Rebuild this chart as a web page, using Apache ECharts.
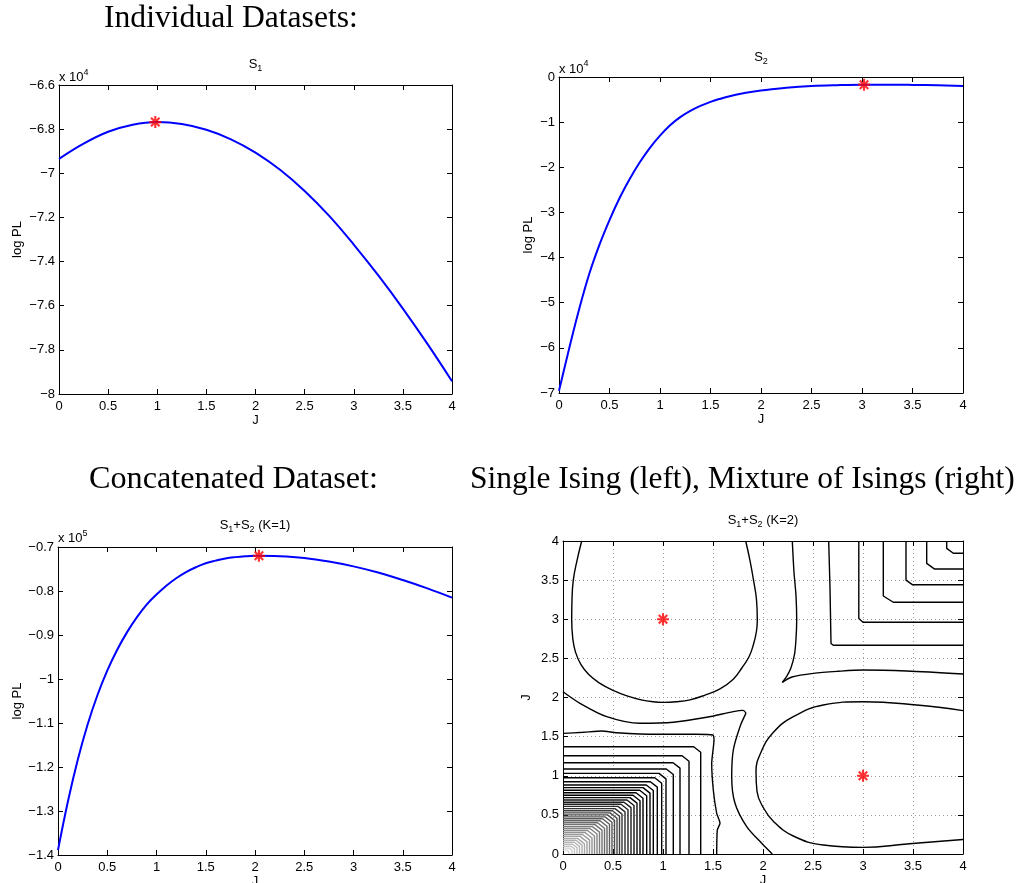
<!DOCTYPE html>
<html><head><meta charset="utf-8">
<script src="https://cdn.jsdelivr.net/npm/echarts@6/dist/echarts.min.js"></script>
<style>html,body{margin:0;padding:0;background:#fff}#c{width:1020px;height:883px}</style>
</head><body><div id="c"></div>
<script>
// ================= DATA =================
// S1 (values in units of 10^4)
const S1_J = [0,0.25,0.5,0.75,1,1.25,1.5,1.75,2,2.25,2.5,2.75,3,3.25,3.5,3.75,4];
const S1_LOGPL = [-6.935,-6.866,-6.812,-6.780,-6.768,-6.777,-6.803,-6.846,-6.906,-6.984,-7.080,-7.193,-7.323,-7.463,-7.613,-7.773,-7.942];
const S1_MAX = [0.98,-6.768];

// S2 (values in units of 10^4)
const S2_J = [0,0.1,0.2,0.3,0.4,0.5,0.6,0.7,0.8,0.9,1.0,1.1,1.2,1.3,1.4,1.5,1.6,1.7,1.8,1.9,2.0,2.25,2.5,2.75,3,3.25,3.5,3.75,4];
const S2_LOGPL = [-6.95,-6.02,-5.14,-4.36,-3.72,-3.17,-2.68,-2.26,-1.89,-1.57,-1.30,-1.07,-0.89,-0.75,-0.64,-0.55,-0.48,-0.42,-0.37,-0.33,-0.30,-0.24,-0.20,-0.18,-0.17,-0.17,-0.175,-0.185,-0.20];
const S2_MAX = [3.02,-0.17];

// S1+S2, K=1 (values in units of 10^5)
const K1_J = [0,0.1,0.2,0.3,0.4,0.5,0.6,0.7,0.8,0.9,1.0,1.1,1.2,1.3,1.4,1.5,1.6,1.7,1.8,1.9,2.0,2.25,2.5,2.75,3.0,3.25,3.5,3.75,4.0];
const K1_LOGPL = [-1.389,-1.279,-1.184,-1.104,-1.037,-0.981,-0.934,-0.894,-0.860,-0.831,-0.808,-0.788,-0.771,-0.757,-0.746,-0.737,-0.731,-0.726,-0.723,-0.721,-0.720,-0.721,-0.725,-0.733,-0.744,-0.758,-0.775,-0.794,-0.815];
const K1_MAX = [2.04,-0.720];

// S1+S2, K=2 : contour lines (J1, J2)
const K2_MAXIMA = [[1,3],[3,1]];
const CONTOUR_A = [[0.187,4.0],[0.14,3.75],[0.103,3.5],[0.09,3.25],[0.087,3.0],[0.098,2.75],[0.125,2.58],[0.18,2.42],[0.26,2.29],[0.37,2.18],[0.50,2.09],[0.64,2.02],[0.78,1.97],[0.9,1.945],[1.003,1.938],[1.13,1.945],[1.27,1.97],[1.42,2.03],[1.57,2.11],[1.70,2.23],[1.79,2.38],[1.86,2.52],[1.905,2.68],[1.935,2.85],[1.943,2.99],[1.935,3.25],[1.905,3.5],[1.87,3.75],[1.827,4.0]];
const CONTOUR_B = [[4.0,1.832],[3.537,1.904],[3.003,1.946],[2.603,1.904],[2.303,1.755],[2.10,1.55],[1.98,1.30],[1.93,1.05],[1.94,0.80],[2.0,0.60],[2.103,0.42],[2.303,0.23],[2.603,0.115],[3.003,0.085],[3.437,0.128],[4.0,0.185]];
const CONTOUR_C1A = [[2.293,4.0],[2.31,3.6],[2.33,3.3],[2.337,2.99],[2.33,2.75],[2.315,2.55],[2.28,2.38],[2.237,2.27],[2.193,2.194]];
const CONTOUR_C1B = [[2.193,2.194],[2.29,2.262],[2.503,2.309],[2.75,2.335],[3.003,2.351],[3.437,2.338],[4.0,2.30]];
const CONTOUR_C2A = [[0,2.074],[0.17,1.926],[0.437,1.755],[0.77,1.67],[1.103,1.683],[1.437,1.747],[1.703,1.819],[1.80,1.835],[1.83,1.80]];
const CONTOUR_C2B = [[1.83,1.80],[1.77,1.627],[1.703,1.329],[1.687,0.988],[1.72,0.648],[1.837,0.349],[1.987,0.137],[2.093,0]];
const CONTOUR_D1 = [[2.657,4.0],[2.67,3.4],[2.68,2.69],[2.703,2.667],[4.0,2.667]];
const CONTOUR_D2 = [[2.958,4.0],[2.958,3.01],[3.0,2.962],[4.0,2.962]];
const CONTOUR_D3 = [[3.203,4.0],[3.203,3.297],[3.303,3.217],[4.0,3.217]];
const CONTOUR_D4 = [[3.43,4.0],[3.43,3.50],[3.497,3.44],[4.0,3.44]];
const CONTOUR_D5 = [[3.637,4.0],[3.637,3.714],[3.713,3.643],[4.0,3.643]];
const CONTOUR_D6 = [[3.837,4.0],[3.837,3.906],[3.903,3.843],[4.0,3.843]];
const CONTOUR_E1 = [[0,1.542],[0.203,1.555],[0.387,1.572],[0.537,1.55],[0.937,1.53],[1.337,1.53],[1.497,1.521],[1.51,1.457],[1.487,1.159],[1.503,0.818],[1.537,0.52],[1.57,0.392],[1.543,0.307],[1.537,0]];
// nested corner contours near (0,0): level height on the J2 axis and width on the J1 axis
const CORNER_H = [1.371,1.256,1.167,1.086,1.03,0.975,0.924,0.882,0.848,0.815,0.783,0.75,0.72,0.69,0.662,0.635,0.608,0.58,0.553,0.526,0.50,0.475,0.45,0.425,0.40,0.375,0.35,0.325,0.30,0.275,0.25,0.225,0.20,0.175,0.15,0.125,0.10,0.075,0.05];
const CORNER_W = [1.377,1.26,1.17,1.103,1.03,0.987,0.943,0.903,0.87,0.837,0.80,0.77,0.74,0.71,0.68,0.65,0.62,0.59,0.565,0.54,0.515,0.49,0.465,0.44,0.415,0.39,0.365,0.34,0.315,0.29,0.265,0.24,0.215,0.19,0.165,0.14,0.115,0.09,0.065];

const X_TICKS = {min:0, max:4, interval:0.5};

// ================= RENDER =================
const SANS = '"Liberation Sans", Arial, Helvetica, sans-serif';
const SERIF = '"Liberation Serif", "Times New Roman", serif';
const chart = echarts.init(document.getElementById('c'), null, {renderer:'canvas'});
const mctx = document.createElement('canvas').getContext('2d');
function tw(t, size, fam){ mctx.font = size + 'px ' + fam; return mctx.measureText(t).width; }
function textEl(t, x, y, size, fam){
  return {type:'text', x:x, y:y, silent:true, z:50,
    style:{text:t, fontSize:size, fontFamily:fam, fill:'#000', align:'left', verticalAlign:'middle', textAlign:'left', textVerticalAlign:'middle'}};
}
function composite(pieces, x, cy, anchor){
  const w = pieces.map(p => tw(p[0], p[1], SANS));
  const total = w.reduce((a,b)=>a+b,0);
  let cx = anchor === 'center' ? x - total/2 : x;
  return pieces.map((p,i) => { const e = textEl(p[0], cx, cy + p[2], p[1], SANS); cx += w[i]; return e; });
}
function fitted(t, left, cy, width){
  const s = 30 * width / tw(t, 30, SERIF);
  return textEl(t, left, cy, s, SERIF);
}
function fmt(v){ const s = String(Math.round(v*1e6)/1e6); return s.replace('-', '\u2212'); }

const grids = [
  {left:59, top:85, width:393, height:309},
  {left:559, top:77, width:404, height:316},
  {left:58, top:547, width:394, height:308},
  {left:563, top:541, width:400, height:313}
].map(g => Object.assign({containLabel:false, outerBoundsMode:'none', show:false}, g));

const yRanges = [
  {min:-8, max:-6.6, interval:0.2, name:'log PL', gap:35},
  {min:-7, max:0, interval:1, name:'log PL', gap:24},
  {min:-1.4, max:-0.7, interval:0.1, name:'log PL', gap:34},
  {min:0, max:4, interval:0.5, name:'J', gap:30}
];

const tick = {show:true, inside:true, length:5, lineStyle:{color:'#000', width:1}};
const aline = {show:true, onZero:false, lineStyle:{color:'#000', width:1}};
const dotted = {show:true, lineStyle:{color:'#a0a0a0', width:1, type:[1,3]}};
const xAxis = [], yAxis = [];
for (let g = 0; g < 4; g++) {
  const grid = g === 3;
  xAxis.push({type:'value', gridIndex:g, position:'bottom', min:X_TICKS.min, max:X_TICKS.max, interval:X_TICKS.interval,
    axisLine:aline, axisTick:tick, splitLine: grid ? dotted : {show:false},
    axisLabel:{show:true, color:'#000', fontSize:13, fontFamily:SANS, margin:6, formatter:fmt, hideOverlap:false, showMinLabel:true, showMaxLabel:true},
    name:'J', nameLocation:'middle', nameGap:20, nameMoveOverlap:false,
    nameTextStyle:{color:'#000', fontSize:13, fontFamily:SANS}});
  xAxis.push({type:'value', gridIndex:g, position:'top', min:X_TICKS.min, max:X_TICKS.max, interval:X_TICKS.interval,
    axisLine:aline, axisTick:tick, axisLabel:{show:false}, splitLine:{show:false}});
  const r = yRanges[g];
  yAxis.push({type:'value', gridIndex:g, position:'left', min:r.min, max:r.max, interval:r.interval,
    axisLine:aline, axisTick:tick, splitLine: grid ? dotted : {show:false},
    axisLabel:{show:true, color:'#000', fontSize:13, fontFamily:SANS, margin:4, formatter:fmt, hideOverlap:false, showMinLabel:true, showMaxLabel:true},
    name:r.name, nameLocation:'middle', nameGap:r.gap, nameMoveOverlap:false,
    nameTextStyle:{color:'#000', fontSize:13, fontFamily:SANS}});
  yAxis.push({type:'value', gridIndex:g, position:'right', min:r.min, max:r.max, interval:r.interval,
    axisLine:aline, axisTick:tick, axisLabel:{show:false}, splitLine:{show:false}});
}

const STAR = 'path://M-1.8,-10L1.8,-10L1.8,10L-1.8,10Z M-10,-1.8L10,-1.8L10,1.8L-10,1.8Z M8.34,5.8L5.8,8.34L-8.34,-5.8L-5.8,-8.34Z M-8.34,5.8L5.8,-8.34L8.34,-5.8L-5.8,8.34Z';
const zip = (xs, ys) => xs.map((x,i) => [x, ys[i]]);
const series = [];
function curve(g, data){
  series.push({type:'line', xAxisIndex:2*g, yAxisIndex:2*g, data:data, smooth:0.4, showSymbol:false, silent:true,
    lineStyle:{color:'#0000ff', width:2}, z:3, animation:false});
}
function marker(g, pts){
  series.push({type:'scatter', xAxisIndex:2*g, yAxisIndex:2*g, data:pts, symbol:STAR, symbolSize:12, silent:true,
    itemStyle:{color:'#ff0000'}, z:10, animation:false});
}
function contour(pts, smooth, color){
  series.push({type:'line', xAxisIndex:6, yAxisIndex:6, data:pts, smooth:smooth, showSymbol:false, silent:true,
    lineStyle:{color:color || '#000', width:1.4}, z:4, animation:false});
}
curve(0, zip(S1_J, S1_LOGPL)); marker(0, [S1_MAX]);
curve(1, zip(S2_J, S2_LOGPL)); marker(1, [S2_MAX]);
curve(2, zip(K1_J, K1_LOGPL)); marker(2, [K1_MAX]);

contour(CONTOUR_A, 0.45); contour(CONTOUR_B, 0.45);
contour(CONTOUR_C1A, 0.3); contour(CONTOUR_C1B, 0.3);
contour(CONTOUR_C2A, 0.3); contour(CONTOUR_C2B, 0.3);
[CONTOUR_D1, CONTOUR_D2, CONTOUR_D3, CONTOUR_D4, CONTOUR_D5, CONTOUR_D6].forEach(d => contour(d, false));
contour(CONTOUR_E1, 0.2);
CORNER_H.forEach((h, i) => {
  const w = CORNER_W[i];
  const cut = Math.min(0.07, 0.35 * h);
  const gray = h >= 0.75 ? 0 : Math.round(Math.min(215, (0.75 - h) / 0.70 * 215));
  const col = 'rgb(' + gray + ',' + gray + ',' + gray + ')';
  contour([[0, h], [w - cut, h], [w, h - cut], [w, 0]], false, col);
});
marker(3, K2_MAXIMA);

const graphic = [
  fitted('Individual Datasets:', 104, 19, 254),
  fitted('Concatenated Dataset:', 89, 480, 289),
  fitted('Single Ising (left), Mixture of Isings (right)', 470, 480, 545),
  ...composite([['S',13,0],['1',9,5]], 255.5, 64, 'center'),
  ...composite([['S',13,0],['2',9,5]], 761, 57, 'center'),
  ...composite([['S',13,0],['1',9,5],['+S',13,0],['2',9,5],[' (K=1)',13,0]], 255, 525, 'center'),
  ...composite([['S',13,0],['1',9,5],['+S',13,0],['2',9,5],[' (K=2)',13,0]], 763, 520, 'center'),
  ...composite([['x 10',13,0],['4',9,-5]], 59, 77.5, 'left'),
  ...composite([['x 10',13,0],['4',9,-5]], 559, 69, 'left'),
  ...composite([['x 10',13,0],['5',9,-5]], 58, 538.5, 'left')
];

chart.setOption({
  animation:false,
  backgroundColor:'#fff',
  grid:grids, xAxis:xAxis, yAxis:yAxis, series:series, graphic:graphic
});
</script></body></html>
